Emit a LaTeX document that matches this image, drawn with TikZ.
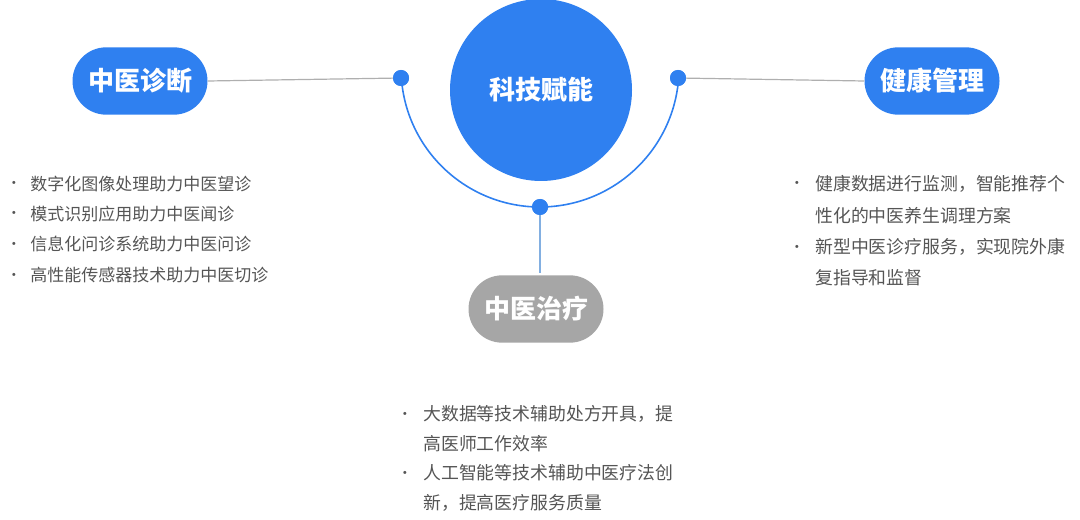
\documentclass[tikz,border=0pt]{standalone}
\usepackage{fontspec}
\usetikzlibrary{shapes.misc}
\newfontfamily\cjk{Noto Sans CJK SC}
\definecolor{mainblue}{RGB}{47,128,240}
\definecolor{pillgray}{RGB}{166,166,166}
\definecolor{txtgray}{RGB}{85,85,85}
\definecolor{linegray}{RGB}{175,175,175}
\definecolor{lightblue}{RGB}{130,175,225}
\begin{document}
\begin{tikzpicture}[x=0.75pt,y=-0.75pt,
  pill/.style={rounded rectangle, minimum width=101.25pt, minimum height=50.5pt, inner sep=0pt, text=white, font=\cjk\bfseries\fontsize{19.5}{21}\selectfont},
  bluepill/.style={pill, fill=mainblue},
  graypill/.style={pill, fill=pillgray},
  hubdot/.style={circle, fill=mainblue, minimum size=12pt, inner sep=0pt},
  litem/.style={anchor=base west, inner sep=0pt, text=txtgray, font=\cjk\fontsize{12.75}{15}\selectfont},
  ritem/.style={anchor=base west, inner sep=0pt, text=txtgray, font=\cjk\fontsize{13.4}{15}\selectfont},
  bul/.style={anchor=base, inner sep=0pt, text=txtgray, font=\cjk\fontsize{11}{12}\selectfont},
  conn/.style={draw=linegray, line width=0.9pt}
]
\useasboundingbox (0,0) rectangle (1080,520);
% centre
\node[circle, fill=mainblue, minimum size=136.5pt, inner sep=0pt, text=white, font=\cjk\bfseries\fontsize{19.5}{21}\selectfont] (hub) at (541,90) {科技赋能};
% arc
\draw[mainblue, line width=1.2pt] (540,68) ++(176:139) arc[start angle=176, end angle=4, radius=139];
% dots
\node[hubdot] (dl) at (401,78) {};
\node[hubdot] (dr) at (678,78) {};
\node[hubdot] (db) at (540,207) {};
% pills
\node[bluepill] (diag) at (140,81) {中医诊断};
\node[bluepill] (health) at (932,81) {健康管理};
\node[graypill] (treat) at (536,309) {中医治疗};
% connectors
\draw[conn] (diag.east) -- (dl.center);
\draw[conn] (dr.center) -- (health.west);
\draw[lightblue, line width=1.2pt] (db.center) -- (540,273);
\node[hubdot] at (dl) {};
\node[hubdot] at (dr) {};
\node[hubdot] at (db) {};
% left list
\node[bul] (lb1) at (14,189) {•};
\node[litem] (l1) at (30,190.5) {数字化图像处理助力中医望诊};
\node[bul] (lb2) at (14,219) {•};
\node[litem] (l2) at (30,220.5) {模式识别应用助力中医闻诊};
\node[bul] (lb3) at (14,249) {•};
\node[litem] (l3) at (30,250.5) {信息化问诊系统助力中医问诊};
\node[bul] (lb4) at (14,280) {•};
\node[litem] (l4) at (30,281.5) {高性能传感器技术助力中医切诊};
% right list
\node[bul] (rb1) at (797,189) {•};
\node[ritem] (r1) at (815,190.5) {健康数据进行监测，智能推荐个};
\node[ritem] (r2) at (815,222.5) {性化的中医养生调理方案};
\node[bul] (rb2) at (797,252) {•};
\node[ritem] (r3) at (815,253.5) {新型中医诊疗服务，实现院外康};
\node[ritem] (r4) at (815,284.5) {复指导和监督};
% bottom list
\node[bul] (bb1) at (405,419) {•};
\node[ritem] (b1) at (423,420.5) {大数据等技术辅助处方开具，提};
\node[ritem] (b2) at (423,450.5) {高医师工作效率};
\node[bul] (bb2) at (405,478) {•};
\node[ritem] (b3) at (423,479.5) {人工智能等技术辅助中医疗法创};
\node[ritem] (b4) at (423,509.5) {新，提高医疗服务质量};
\end{tikzpicture}
\end{document}
